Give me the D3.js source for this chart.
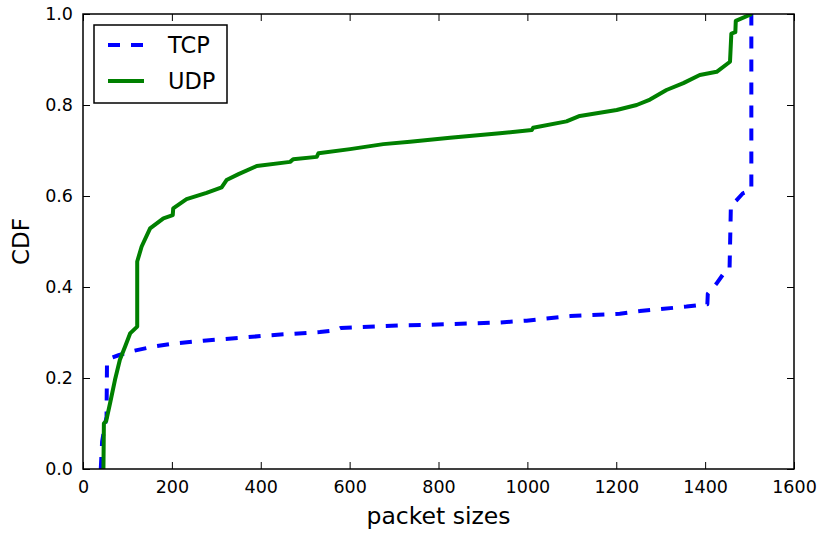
<!DOCTYPE html>
<html>
<head>
<meta charset="utf-8">
<script src="https://cdn.jsdelivr.net/npm/d3@7"></script>
<style>
  body { margin: 0; background: #fff; }
  svg { display: block; font-family: "DejaVu Sans", sans-serif; }
</style>
</head>
<body>
<div id="chart"></div>
<script>
// packet size CDF
const tcpSizes = [40, 43, 50, 53, 54, 60, 80, 106, 158, 200, 271, 350, 421, 533, 570, 580, 721, 781, 938, 998, 1096, 1208, 1253, 1358, 1400, 1405, 1406, 1426, 1447, 1455, 1458, 1470, 1485, 1504, 1504];
const tcpCdf = [0, 0.06, 0.1, 0.115, 0.235, 0.243, 0.25, 0.258, 0.269, 0.275, 0.282, 0.288, 0.294, 0.301, 0.305, 0.31, 0.316, 0.317, 0.322, 0.326, 0.336, 0.341, 0.347, 0.357, 0.362, 0.362, 0.385, 0.408, 0.437, 0.44, 0.58, 0.59, 0.606, 0.613, 1.0];

const udpSizes = [46, 47, 52, 61, 72, 83, 95, 106, 122, 122, 132, 151, 181, 202, 203, 233, 278, 312, 323, 350, 391, 466, 473, 526, 530, 601, 676, 736, 826, 938, 1010, 1013, 1088, 1118, 1201, 1246, 1276, 1313, 1351, 1388, 1426, 1456, 1459, 1468, 1469, 1505];
const udpCdf = [0, 0.1, 0.105, 0.145, 0.196, 0.24, 0.27, 0.298, 0.313, 0.456, 0.489, 0.529, 0.551, 0.558, 0.573, 0.593, 0.607, 0.619, 0.635, 0.648, 0.666, 0.675, 0.681, 0.686, 0.694, 0.703, 0.714, 0.719, 0.728, 0.738, 0.745, 0.75, 0.764, 0.776, 0.789, 0.8, 0.812, 0.833, 0.848, 0.866, 0.873, 0.895, 0.957, 0.96, 0.985, 1.0];

const xTicks = [0, 200, 400, 600, 800, 1000, 1200, 1400, 1600];
const yTicks = [0, 0.2, 0.4, 0.6, 0.8, 1.0];

const series = [
  { name: "TCP", x: tcpSizes, y: tcpCdf, color: "#0000ff", dash: "12,11" },
  { name: "UDP", x: udpSizes, y: udpCdf, color: "#008000", dash: null },
];

const width = 819, height = 533;
const margin = { top: 14, right: 25, bottom: 64, left: 83 };
const innerW = width - margin.left - margin.right;
const innerH = height - margin.top - margin.bottom;
const tickLen = 7;

const xScale = d3.scaleLinear().domain([0, 1600]).range([0, innerW]);
const yScale = d3.scaleLinear().domain([0, 1]).range([innerH, 0]);

const svg = d3.select("#chart").append("svg")
  .attr("width", width)
  .attr("height", height);

svg.append("defs").append("clipPath")
  .attr("id", "plotClip")
  .append("rect")
  .attr("width", innerW)
  .attr("height", innerH);

const g = svg.append("g")
  .attr("transform", `translate(${margin.left},${margin.top})`);

// lines
const line = d3.line()
  .x((d) => xScale(d[0]))
  .y((d) => yScale(d[1]));

const plot = g.append("g").attr("clip-path", "url(#plotClip)");
for (let s of series) {
  const pts = s.x.map((v, i) => [v, s.y[i]]);
  plot.append("path")
    .attr("d", line(pts))
    .attr("fill", "none")
    .attr("stroke", s.color)
    .attr("stroke-width", 4)
    .attr("stroke-linejoin", "round")
    .attr("stroke-dasharray", s.dash);
}

// axes: ticks inside on all four sides, matplotlib classic look
const fmtX = d3.format("d");
const fmtY = d3.format(".1f");
function styleAxis(sel) {
  sel.select(".domain").remove();
  sel.selectAll(".tick line").attr("stroke", "#000").attr("stroke-width", 1);
  sel.selectAll(".tick text")
    .attr("fill", "#000")
    .style("font-size", "17.5px")
    .style("font-family", "DejaVu Sans, sans-serif");
}

g.append("g")
  .attr("transform", `translate(0,${innerH})`)
  .call(d3.axisBottom(xScale).tickValues(xTicks).tickSizeInner(-tickLen).tickSizeOuter(0).tickPadding(12).tickFormat(fmtX))
  .call(styleAxis);

g.append("g")
  .call(d3.axisTop(xScale).tickValues(xTicks).tickSizeInner(-tickLen).tickSizeOuter(0).tickFormat(""))
  .call(styleAxis);

g.append("g")
  .call(d3.axisLeft(yScale).tickValues(yTicks).tickSizeInner(-tickLen).tickSizeOuter(0).tickPadding(10).tickFormat(fmtY))
  .call(styleAxis);

g.append("g")
  .attr("transform", `translate(${innerW},0)`)
  .call(d3.axisRight(yScale).tickValues(yTicks).tickSizeInner(-tickLen).tickSizeOuter(0).tickFormat(""))
  .call(styleAxis);

// frame
g.append("rect")
  .attr("width", innerW)
  .attr("height", innerH)
  .attr("fill", "none")
  .attr("stroke", "#000")
  .attr("stroke-width", 1.5);

// axis titles
g.append("text")
  .attr("x", innerW / 2)
  .attr("y", innerH + 55)
  .attr("text-anchor", "middle")
  .style("font-size", "23.5px")
  .text("packet sizes");

g.append("text")
  .attr("transform", `translate(${29 - margin.left},${innerH / 2}) rotate(-90)`)
  .attr("text-anchor", "middle")
  .style("font-size", "23px")
  .text("CDF");

// legend
const legend = g.append("g").attr("transform", "translate(11,11)");
legend.append("rect")
  .attr("width", 133)
  .attr("height", 78)
  .attr("fill", "#fff")
  .attr("stroke", "#000")
  .attr("stroke-width", 1.5);

series.forEach((s, i) => {
  const row = legend.append("g").attr("transform", `translate(0,${20 + i * 36})`);
  row.append("line")
    .attr("x1", 14).attr("x2", 50)
    .attr("stroke", s.color)
    .attr("stroke-width", 4)
    .attr("stroke-dasharray", s.dash);
  row.append("text")
    .attr("x", 74)
    .attr("y", 8)
    .style("font-size", "22.5px")
    .text(s.name);
});
</script>
</body>
</html>
